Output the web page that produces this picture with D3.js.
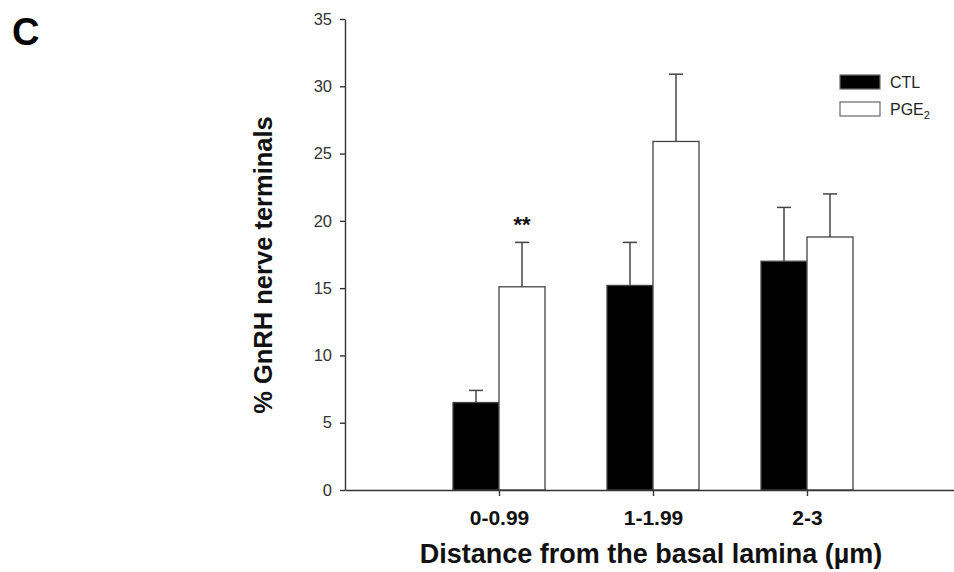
<!DOCTYPE html>
<html>
<head>
<meta charset="utf-8">
<script src="https://cdn.jsdelivr.net/npm/d3@7"></script>
<style>
  body { margin: 0; background: #fff; }
  svg { font-family: "Liberation Sans", Arial, sans-serif; }
</style>
</head>
<body>
<svg id="chart" width="954" height="572"></svg>
<script>
// data
const CATEGORIES = ["0-0.99", "1-1.99", "2-3"]
const SERIES = ["CTL", "PGE2"]
const CTL_MEAN = [6.5, 15.2, 17.0]
const CTL_ERR = [0.9, 3.2, 4.0]
const PGE_MEAN = [15.1, 25.9, 18.8]
const PGE_ERR = [3.3, 5.0, 3.2]
const Y_TICKS = [0, 5, 10, 15, 20, 25, 30, 35]
const SIGNIF = ["**", "", ""]

const rows = CATEGORIES.map(function(c, i){
  return [
    {cat: c, s: "CTL", v: CTL_MEAN[i], e: CTL_ERR[i]},
    {cat: c, s: "PGE2", v: PGE_MEAN[i], e: PGE_ERR[i]}
  ]
}).flat()

const svg = d3.select("#chart")

const x = d3.scalePoint()
  .domain(CATEGORIES)
  .range([345, 961])
  .padding(1)

const xs = d3.scaleBand()
  .domain(SERIES)
  .range([-46, 46])

const y = d3.scaleLinear()
  .domain([0, 35])
  .range([490, 19])

const fill = {CTL: "#000", PGE2: "#fff"}

// axes
const yAxis = svg.append("g")
  .attr("transform", "translate(345,0)")
  .call(d3.axisLeft(y).tickValues(Y_TICKS).tickSize(5).tickSizeOuter(0).tickPadding(8))
yAxis.selectAll("text")
  .attr("font-size", 16.5)
  .attr("fill", "#333")
yAxis.selectAll("line, path").attr("stroke", "#333").attr("stroke-width", 1.4)

// bars
svg.append("g").selectAll("rect")
  .data(rows)
  .enter()
  .append("rect")
    .attr("x", d => x(d.cat) + xs(d.s))
    .attr("y", d => y(d.v))
    .attr("width", xs.bandwidth())
    .attr("height", d => y(0) - y(d.v))
    .attr("fill", d => fill[d.s])
    .attr("stroke", "#444")
    .attr("stroke-width", 1.3)

// error bars
const eb = svg.append("g").selectAll("g")
  .data(rows)
  .enter()
  .append("g")
    .attr("stroke", "#444")
    .attr("stroke-width", 1.5)
eb.append("line")
  .attr("x1", d => x(d.cat) + xs(d.s) + xs.bandwidth() / 2)
  .attr("x2", d => x(d.cat) + xs(d.s) + xs.bandwidth() / 2)
  .attr("y1", d => y(d.v))
  .attr("y2", d => y(d.v + d.e))
eb.append("line")
  .attr("x1", d => x(d.cat) + xs(d.s) + xs.bandwidth() / 2 - 7)
  .attr("x2", d => x(d.cat) + xs(d.s) + xs.bandwidth() / 2 + 7)
  .attr("y1", d => y(d.v + d.e))
  .attr("y2", d => y(d.v + d.e))

// significance marks
svg.append("g").selectAll("text")
  .data(CATEGORIES)
  .enter()
  .append("text")
    .attr("x", d => x(d) + xs("PGE2") + xs.bandwidth() / 2)
    .attr("y", (d, i) => y(PGE_MEAN[i] + PGE_ERR[i]) - 10)
    .attr("text-anchor", "middle")
    .attr("font-size", 22)
    .attr("font-weight", "bold")
    .attr("fill", "#111")
    .text((d, i) => SIGNIF[i])

const xAxis = svg.append("g")
  .attr("transform", "translate(0,490)")
  .call(d3.axisBottom(x).tickSize(6).tickSizeOuter(0).tickPadding(14))
xAxis.selectAll("text")
  .attr("font-size", 21)
  .attr("font-weight", "bold")
  .attr("fill", "#111")
xAxis.selectAll("line, path").attr("stroke", "#333").attr("stroke-width", 1.4)

// titles
svg.append("text")
  .attr("transform", "translate(272,265) rotate(-90)")
  .attr("text-anchor", "middle")
  .attr("font-size", 25.5)
  .attr("font-weight", "bold")
  .attr("fill", "#111")
  .text("% GnRH nerve terminals")

svg.append("text")
  .attr("x", 651)
  .attr("y", 563)
  .attr("text-anchor", "middle")
  .attr("font-size", 27)
  .attr("font-weight", "bold")
  .attr("fill", "#111")
  .text("Distance from the basal lamina (\u00b5m)")

svg.append("text")
  .attr("x", 12)
  .attr("y", 45)
  .attr("font-size", 38)
  .attr("font-weight", "bold")
  .attr("fill", "#000")
  .text("C")

// legend
const legend = svg.append("g")
  .attr("transform", "translate(840,75)")
legend.selectAll("rect")
  .data(SERIES)
  .enter()
  .append("rect")
    .attr("x", 0)
    .attr("y", (d, i) => i * 27)
    .attr("width", 40)
    .attr("height", 14)
    .attr("fill", d => fill[d])
    .attr("stroke", "#666")
    .attr("stroke-width", 1.2)
const lt = legend.selectAll("text")
  .data(SERIES)
  .enter()
  .append("text")
    .attr("x", 50)
    .attr("y", (d, i) => i * 27 + 13)
    .attr("font-size", 16)
    .attr("fill", "#222")
lt.filter(d => d === "CTL").text("CTL")
const pge = lt.filter(d => d === "PGE2")
pge.append("tspan").text("PGE")
pge.append("tspan").attr("font-size", 11).attr("dy", 4).text("2")
</script>
</body>
</html>
